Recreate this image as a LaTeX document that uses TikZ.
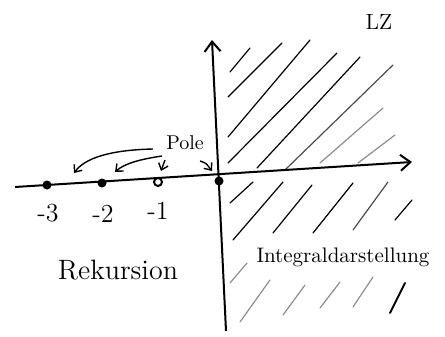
\documentclass[tikz,border=0pt]{standalone}
\usetikzlibrary{arrows.meta}
\begin{document}
\begin{tikzpicture}[x=0.5pt,y=-0.5pt,
  axis/.style={line width=1pt,-{Straight Barb[length=5pt,width=8pt]}},
  hatch/.style={line width=0.6pt,line cap=round},
  faint/.style={hatch,black!45},
  curvearrow/.style={line width=0.7pt,-{Straight Barb[length=3pt,width=5pt]}},
  dotstyle/.style={circle,fill=black,inner sep=0pt,minimum size=4.5pt},
  lbl/.style={inner sep=1pt,font=\fontsize{13}{15}\selectfont}]
\useasboundingbox (0,0) rectangle (445,337);
% hatching upper half
\draw[hatch] (230,72)--(250,48);
\draw[hatch] (228,97)--(282,43);
\draw[hatch] (228,137)--(310,40);
\draw[hatch] (228,163)--(337,53);
\draw[hatch] (257,168)--(360,57);
\draw[hatch,black!70] (285,170)--(393,65);
\draw[faint] (320,163)--(383,108);
\draw[faint] (358,163)--(395,135);
% hatching lower half
\draw[hatch] (230,203)--(253,182);
\draw[hatch] (233,240)--(283,182);
\draw[hatch] (273,233)--(312,185);
\draw[hatch] (313,233)--(353,183);
\draw[hatch,black!70] (353,230)--(388,182);
\draw[hatch] (395,220)--(412,200);
\draw[faint] (230,283)--(247,263);
\draw[faint] (240,322)--(270,280);
\draw[faint] (283,315)--(305,285);
\draw[faint] (320,308)--(340,282);
\draw[faint] (353,307)--(373,277);
\draw[hatch,line width=0.9pt] (390,313)--(405,283);
% axes
\coordinate (xl) at (15,187);
\coordinate (xr) at (412,162);
\coordinate (yb) at (226,331);
\coordinate (yt) at (212,40);
\draw[axis] (xl) -- (xr);
\draw[axis] (yb) -- (yt);
% dots
\node[dotstyle] (o) at (219,181) {};
\node[dotstyle] (m3) at (47,185) {};
\node[dotstyle] (m2) at (102,183) {};
\node[circle,draw,line width=1pt,inner sep=0pt,minimum size=4pt,fill=white] (m1) at (158,182) {};
% tick labels
\node[lbl] (l3) at (48,213) {-3};
\node[lbl] (l2) at (103,214) {-2};
\node[lbl] (l1) at (158,211) {-1};
% Pole
\node[inner sep=1pt,font=\fontsize{10}{12}\selectfont] (pole) at (185,143) {Pole};
\coordinate (a1s) at (153,149);
\coordinate (a1e) at (74,173);
\coordinate (a2s) at (162,156);
\coordinate (a2e) at (115,172);
\coordinate (a3s) at (165,160);
\coordinate (a3e) at (161,171);
\coordinate (a4s) at (200,161);
\coordinate (a4e) at (212,171);
\draw[curvearrow] (a1s) .. controls (110,150) and (85,158) .. (a1e);
\draw[curvearrow] (a2s) .. controls (142,159) and (125,163) .. (a2e);
\draw[curvearrow] (a3s) -- (a3e);
\draw[curvearrow] (a4s) .. controls (206,163) .. (a4e);
% texts
\node[inner sep=1pt,font=\fontsize{11}{13}\selectfont] (lz) at (379,22) {LZ};
\node[inner sep=1pt,font=\fontsize{10.5}{12}\selectfont] (integ) at (343,257) {Integraldarstellung};
\node[lbl,font=\fontsize{14}{16}\selectfont] (rek) at (118,270) {Rekursion};
\end{tikzpicture}
\end{document}
